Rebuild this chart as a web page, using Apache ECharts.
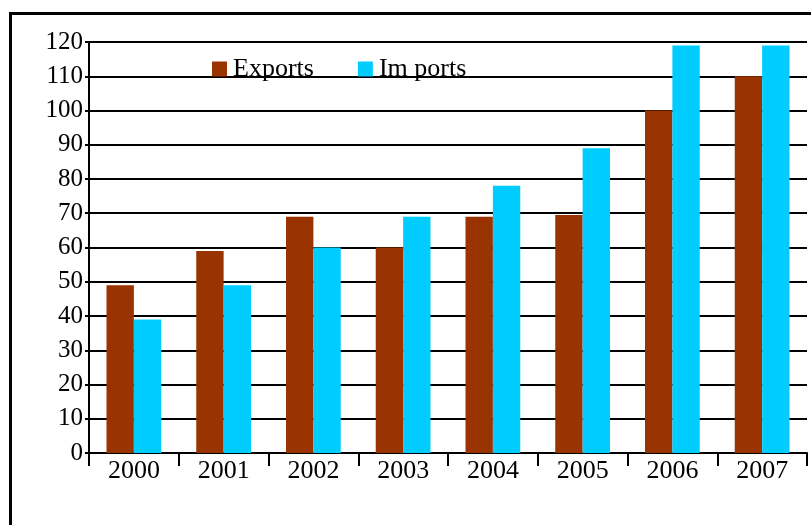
<!DOCTYPE html>
<html>
<head>
<meta charset="utf-8">
<title>Exports and Imports</title>
<script src="https://cdn.jsdelivr.net/npm/echarts@6/dist/echarts.min.js"></script>
<style>
  html, body { margin: 0; padding: 0; background: #fff; }
  #main { width: 811px; height: 525px; }
</style>
</head>
<body>
<div id="main"></div>
<script>
// data
var years = ['2000', '2001', '2002', '2003', '2004', '2005', '2006', '2007']
var exportsData = [49, 59, 69, 60, 69, 69.5, 100, 110]
var importsData = [39, 49, 60, 69, 78, 89, 119, 119]
var yTicks = [0, 10, 20, 30, 40, 50, 60, 70, 80, 90, 100, 110, 120]

var serif = '"Liberation Serif", "Times New Roman", serif'

var chart = echarts.init(document.getElementById('main'))
window.onresize = chart.resize

chart.setOption({
  animation: false,
  backgroundColor: '#fff',
  graphic: [
    {
      type: 'rect',
      shape: { x: 10.5, y: 13.5, width: 830, height: 560 },
      style: { fill: 'none', stroke: '#000', lineWidth: 3 },
      z: 0
    }
  ],
  grid: {
    left: 89,
    right: 4,
    top: 42,
    bottom: 72
  },
  legend: {
    data: ['Exports', 'Im ports'],
    left: 207,
    top: 51,
    itemWidth: 15,
    itemHeight: 15,
    itemGap: 44,
    icon: 'rect',
    textStyle: {
      color: '#000',
      fontSize: 26,
      fontFamily: serif,
      padding: [0, 0, 4, 1]
    }
  },
  xAxis: {
    type: 'category',
    data: years,
    axisLine: { lineStyle: { color: '#000', width: 2 } },
    axisTick: { show: true, length: 13, lineStyle: { color: '#000', width: 2 } },
    axisLabel: {
      color: '#000',
      fontSize: 26,
      fontFamily: serif,
      margin: 5
    }
  },
  yAxis: {
    type: 'value',
    min: yTicks[0],
    max: yTicks[yTicks.length - 1],
    interval: 10,
    axisLine: { show: true, lineStyle: { color: '#000', width: 2 } },
    axisTick: { show: true, length: 4, lineStyle: { color: '#000', width: 2 } },
    axisLabel: {
      color: '#000',
      fontSize: 25,
      fontFamily: serif,
      margin: 6
    },
    splitLine: {
      show: true,
      lineStyle: { color: '#000', width: 2 }
    }
  },
  series: [
    {
      name: 'Exports',
      type: 'bar',
      data: exportsData,
      barGap: 0,
      barCategoryGap: '39%',
      itemStyle: { color: '#993300' }
    },
    {
      name: 'Im ports',
      type: 'bar',
      data: importsData,
      itemStyle: { color: '#00CCFF' }
    }
  ]
})
</script>
</body>
</html>
